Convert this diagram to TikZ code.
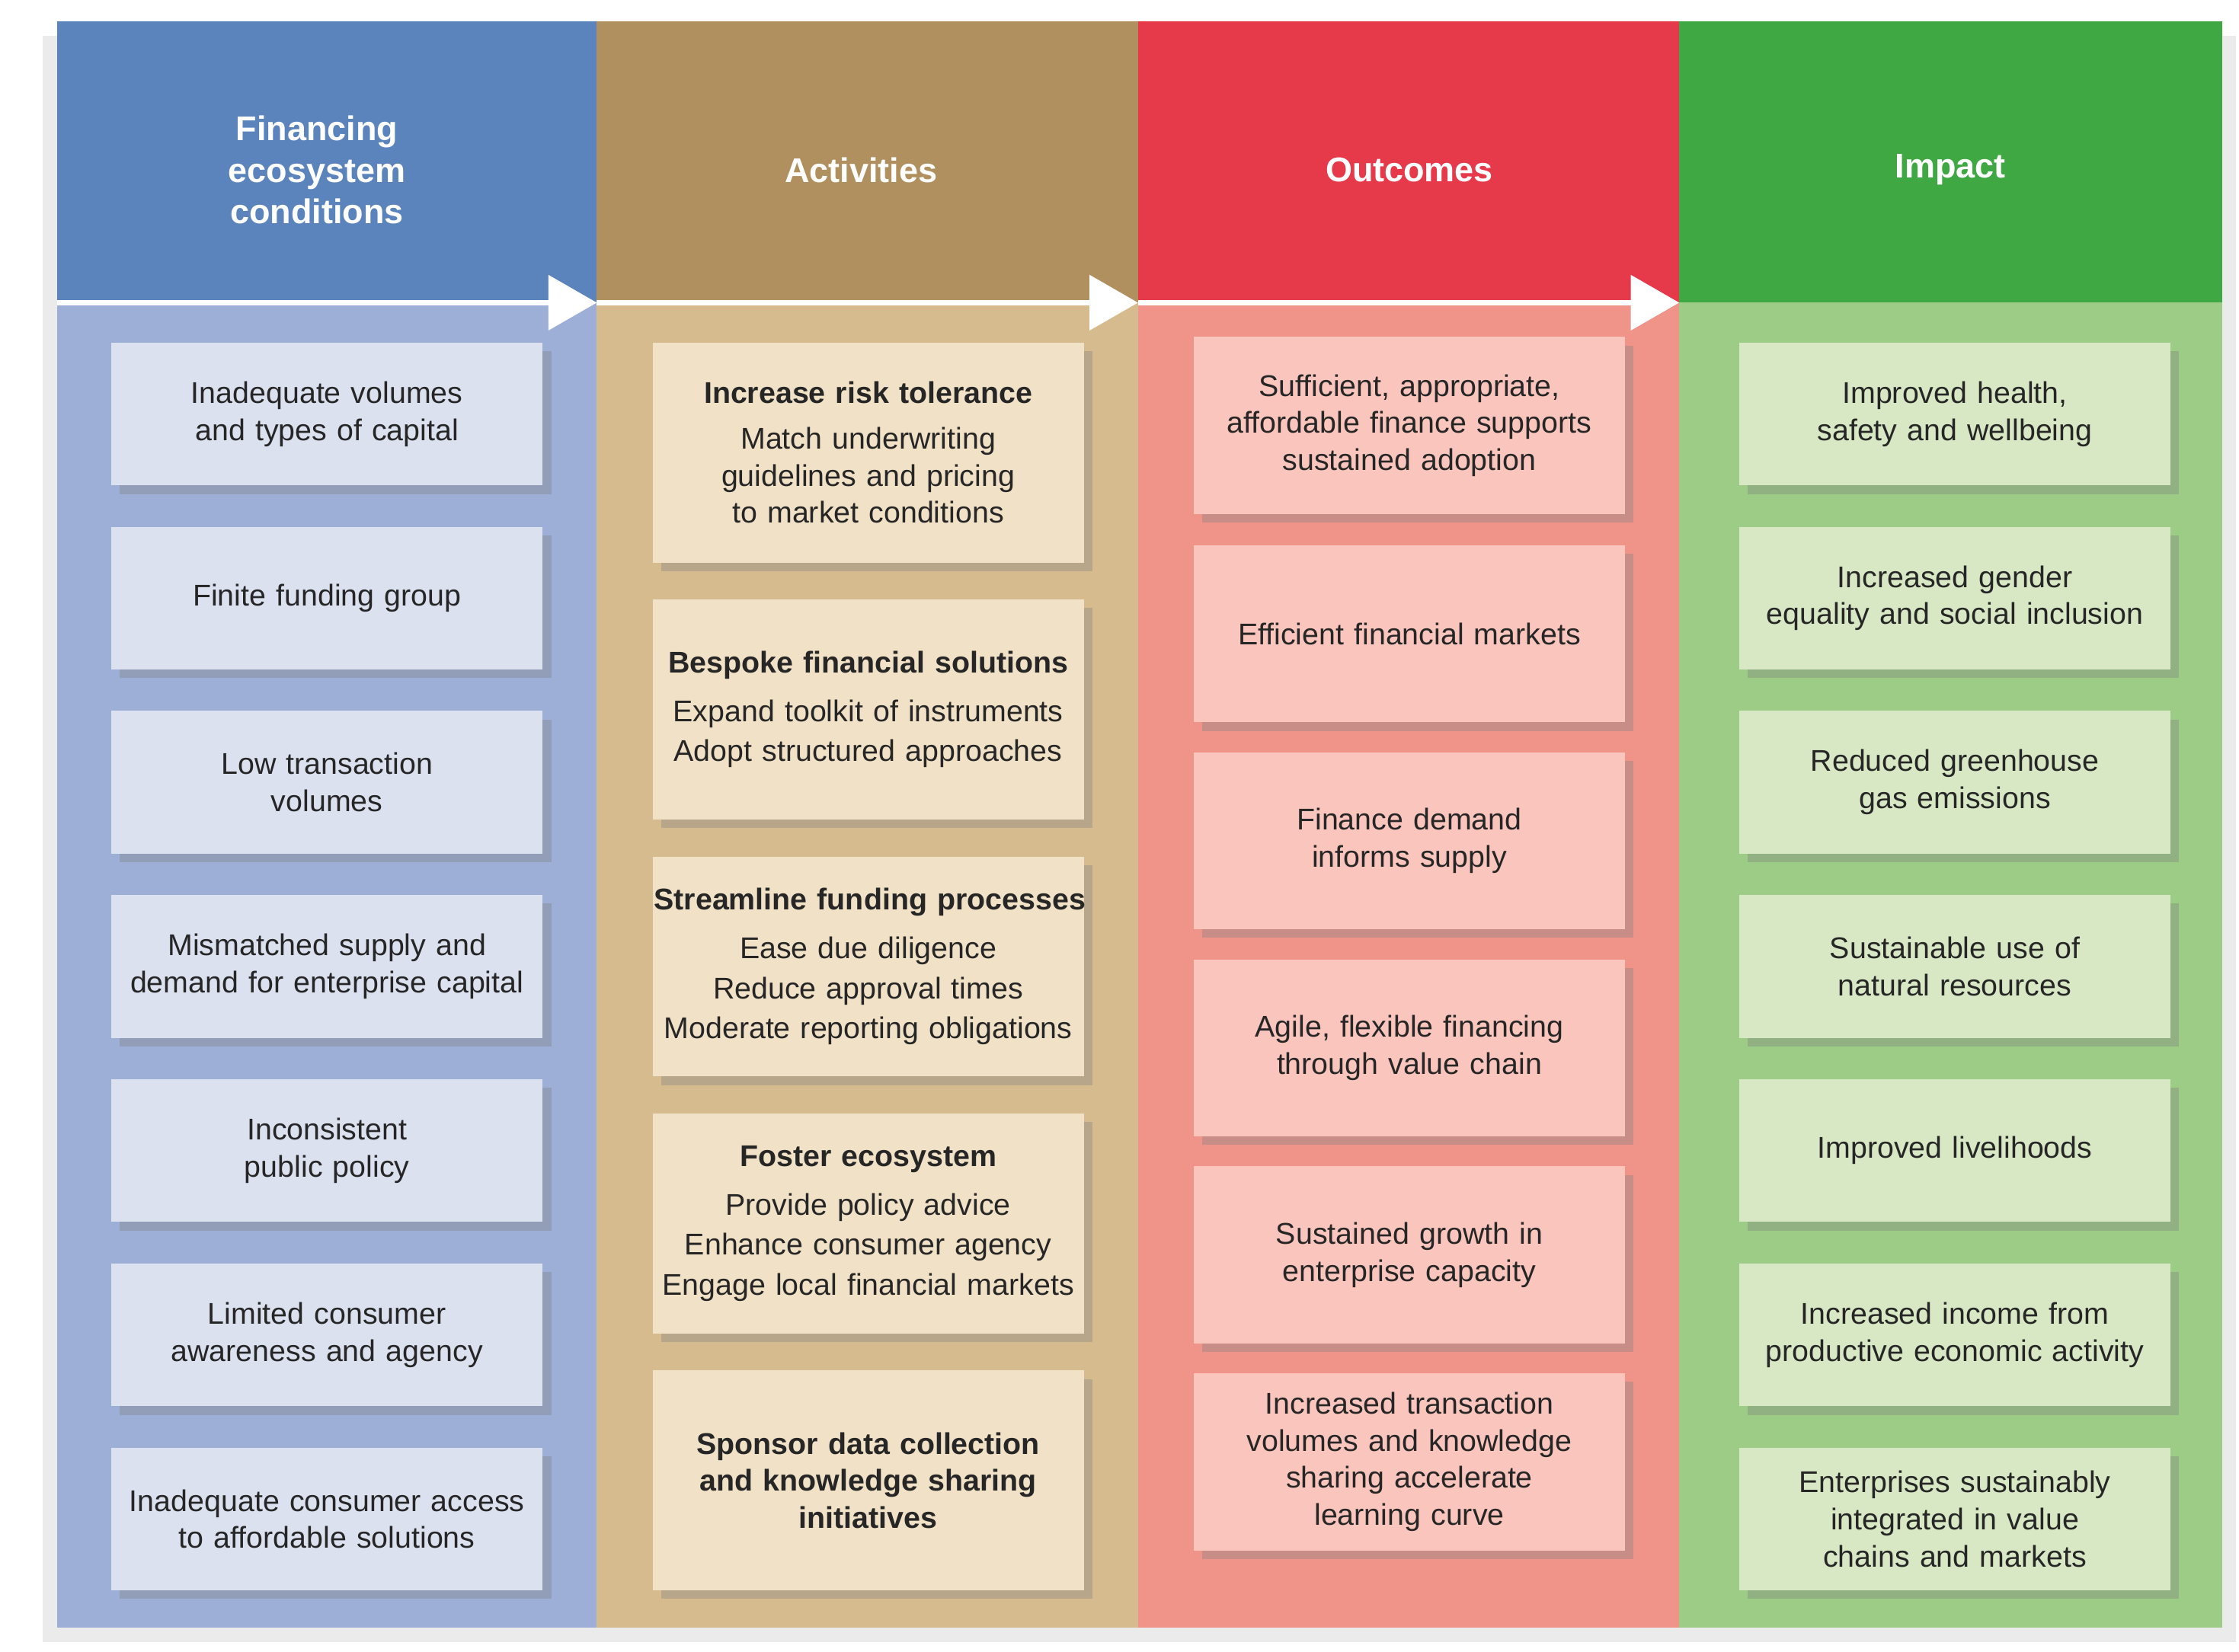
\documentclass[tikz,border=0pt]{standalone}
\usepackage{fontspec}
\setmainfont{Liberation Sans}
\usetikzlibrary{shadows,arrows.meta}
\definecolor{h1}{HTML}{5B84BD}\definecolor{b1}{HTML}{9DAFD6}\definecolor{c1}{HTML}{DCE1F0}
\definecolor{h2}{HTML}{B0905E}\definecolor{b2}{HTML}{D6BB8E}\definecolor{c2}{HTML}{F1E1C6}
\definecolor{h3}{HTML}{E63A4B}\definecolor{b3}{HTML}{F0948A}\definecolor{c3}{HTML}{FAC5BC}
\definecolor{h4}{HTML}{3FA843}\definecolor{b4}{HTML}{9DCC86}\definecolor{c4}{HTML}{D8E8C4}
\begin{document}
\begin{tikzpicture}[x=0.5pt,y=-0.5pt,
 box/.style={draw=none,align=center,minimum width=151pt,text width=150pt,inner sep=0pt,
  font=\fontsize{10.5}{13}\selectfont,text=black!85,drop shadow={shadow xshift=3pt,shadow yshift=-3pt,opacity=0.35}},
 hd/.style={align=center,text=white,font=\bfseries\fontsize{12}{14.5}\selectfont},
 arr/.style={white,line width=2pt,-{Triangle[length=17pt,width=19pt]}}]
\useasboundingbox (0,0) rectangle (1568,1157);
\fill[black!8] (30,25) rectangle (1566,1150);
\foreach \i/\a/\b in {1/40/418,2/418/797,3/797/1176,4/1176/1556}{
 \fill[h\i] (\a,15) rectangle (\b,212);
 \fill[b\i] (\a,212) rectangle (\b,1140);}
\node[hd] (H1) at (222,119) {Financing\\ecosystem\\conditions};
\node[hd] (H2) at (603,119) {Activities};
\node[hd] (H3) at (987,119) {Outcomes};
\node[hd] (H4) at (1366,119) {\vphantom{g}Impact};
\coordinate (s0) at (40,212);\coordinate (s1) at (418,212);
\coordinate (s2) at (797,212);\coordinate (s3) at (1176,212);
\draw[arr] (s0) -- (s1);\draw[arr] (s1) -- (s2);\draw[arr] (s2) -- (s3);
% column 1
\foreach \n/\y/\t in {1/290/{Inadequate volumes\\and types of capital},2/419/{Finite funding group},
 3/548/{Low transaction\\volumes},4/677/{Mismatched supply and\\demand for enterprise capital},
 5/806/{Inconsistent\\public policy},6/935/{Limited consumer\\awareness and agency},
 7/1064/{Inadequate consumer access\\to affordable solutions}}
 \node[box,fill=c1,minimum height=50pt] (a\n) at (229,\y) {\t};
% column 4
\foreach \n/\y/\t in {1/290/{Improved health,\\safety and wellbeing},2/419/{Increased gender\\equality and social inclusion},
 3/548/{Reduced greenhouse\\gas emissions},4/677/{Sustainable use of\\natural resources},
 5/806/{Improved livelihoods},6/935/{Increased income from\\productive economic activity},
 7/1064/{Enterprises sustainably\\integrated in value\\chains and markets}}
 \node[box,fill=c4,minimum height=50pt] (d\n) at (1369,\y) {\t};
% column 3
\foreach \n/\y/\t in {1/298/{Sufficient, appropriate,\\affordable finance supports\\sustained adoption},2/444/{Efficient financial markets},
 3/589/{Finance demand\\informs supply},4/734/{Agile, flexible financing\\through value chain},
 5/879/{Sustained growth in\\enterprise capacity},6/1024/{Increased transaction\\volumes and knowledge\\sharing accelerate\\learning curve}}
 \node[box,fill=c3,minimum height=62pt] (c\n) at (987,\y) {\t};
% column 2
\foreach \n/\y/\t in {1/317/{\textbf{Increase risk tolerance}\\[3pt]Match underwriting\\guidelines and pricing\\to market conditions},
 2/497/{\textbf{Bespoke financial solutions}\\[4pt]Expand toolkit of instruments\\[1pt]Adopt structured approaches\\[8pt]},
 3/677/{\mbox{\textbf{Streamline funding processes}}\\[4pt]Ease due diligence\\[1pt]Reduce approval times\\[1pt]Moderate reporting obligations},
 4/857/{\textbf{Foster ecosystem}\\[4pt]Provide policy advice\\[1pt]Enhance consumer agency\\[1pt]Engage local financial markets},
 5/1037/{\textbf{Sponsor data collection}\\\textbf{and knowledge sharing}\\\textbf{initiatives}}}
 \node[box,fill=c2,minimum height=77pt] (b\n) at (608,\y) {\t};
\end{tikzpicture}
\end{document}
